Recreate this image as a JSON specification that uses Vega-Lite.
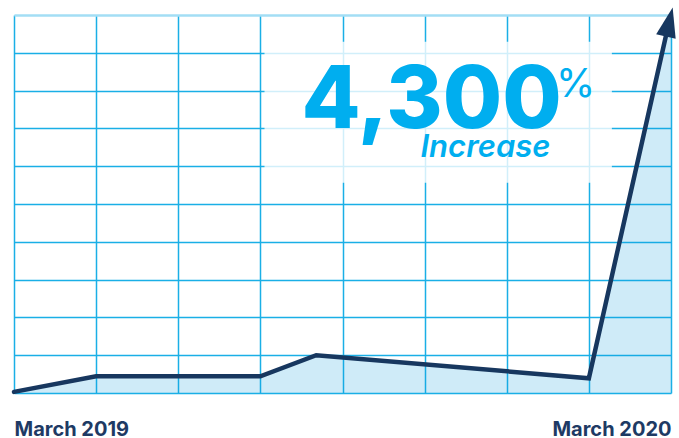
{
  "$schema": "https://vega.github.io/schema/vega-lite/v6.json",
  "width": 657,
  "height": 378,
  "autosize": {"type": "none"},
  "padding": {"left": 14, "top": 15, "right": 8, "bottom": 45},
  "background": "white",
  "config": {"view": {"stroke": null}},
  "datasets": {
    "series": [
      {"x": 0, "y": 0.03, "part": "both"},
      {"x": 1, "y": 0.44, "part": "both"},
      {"x": 3, "y": 0.44, "part": "both"},
      {"x": 3.68, "y": 1.0, "part": "both"},
      {"x": 7, "y": 0.39, "part": "both"},
      {"x": 7.938, "y": 9.445, "part": "both"},
      {"x": 8, "y": 9.4, "part": "area"}
    ],
    "arrow": [{"x": 7.979, "y": 9.815}],
    "panel": [{"x1": 3.05, "x2": 7.28, "y1": 9.29, "y2": 5.56}],
    "big": [{"x": 3.5, "y": 7.013, "t": "4,300"}],
    "pct": [{"x": 6.6, "y": 7.83, "t": "%"}],
    "sub": [{"x": 4.95, "y": 6.25, "t": "Increase"}]
  },
  "encoding": {
    "x": {
      "field": "x", "type": "quantitative",
      "scale": {"domain": [0, 8], "nice": false, "zero": false},
      "axis": {
        "title": null, "values": [0, 1, 2, 3, 4, 5, 6, 7, 8],
        "grid": true, "gridColor": "#1AAFE6", "gridWidth": 1.5,
        "domain": false, "ticks": false,
        "labelExpr": "datum.value == 0 ? 'March 2019' : datum.value == 8 ? 'March 2020' : ''",
        "labelFlush": true, "labelBaseline": "alphabetic", "labelPadding": 42,
        "labelFont": "Inter", "labelFontSize": 20, "labelFontWeight": 700,
        "labelColor": "#1E3A64", "labelOverlap": false
      }
    },
    "y": {
      "field": "y", "type": "quantitative",
      "scale": {"domain": [0, 10], "nice": false, "zero": false},
      "axis": {
        "title": null, "values": [0, 1, 2, 3, 4, 5, 6, 7, 8, 9, 10],
        "grid": true,
        "gridColor": {"condition": {"test": "datum.value == 10", "value": "#A3DEF5"}, "value": "#1AAFE6"},
        "gridWidth": {"condition": {"test": "datum.value == 10", "value": 2.5}, "value": 1.5},
        "domain": false, "ticks": false, "labels": false
      }
    }
  },
  "layer": [
    {
      "data": {"name": "series"},
      "mark": {"type": "area", "fill": "#0E9BDB", "fillOpacity": 0.2},
      "encoding": {}
    },
    {
      "data": {"name": "panel"},
      "mark": {"type": "rect", "fill": "white", "opacity": 0.8},
      "encoding": {
        "x": {"field": "x1", "type": "quantitative"},
        "x2": {"field": "x2"},
        "y": {"field": "y1", "type": "quantitative"},
        "y2": {"field": "y2"}
      }
    },
    {
      "data": {"name": "series"},
      "transform": [{"filter": "datum.part == 'both'"}],
      "mark": {"type": "line", "color": "#17375F", "strokeWidth": 4.5, "strokeCap": "round", "strokeJoin": "miter"},
      "encoding": {}
    },
    {
      "data": {"name": "arrow"},
      "mark": {"type": "point", "shape": "M0,-1L-0.667,1L0.667,1Z", "filled": true, "color": "#17375F", "opacity": 1, "size": 900, "angle": 13},
      "encoding": {}
    },
    {
      "data": {"name": "big"},
      "mark": {"type": "text", "font": "Inter", "fontSize": 86, "fontWeight": 800, "color": "#00AEEF", "align": "left", "baseline": "alphabetic"},
      "encoding": {"text": {"field": "t"}}
    },
    {
      "data": {"name": "pct"},
      "mark": {"type": "text", "font": "Inter", "fontSize": 40, "fontWeight": 400, "color": "#00AEEF", "align": "left", "baseline": "alphabetic"},
      "encoding": {"text": {"field": "t"}}
    },
    {
      "data": {"name": "sub"},
      "mark": {"type": "text", "font": "Inter", "fontSize": 31, "fontWeight": 600, "fontStyle": "italic", "color": "#00AEEF", "align": "left", "baseline": "alphabetic"},
      "encoding": {"text": {"field": "t"}}
    }
  ]
}
